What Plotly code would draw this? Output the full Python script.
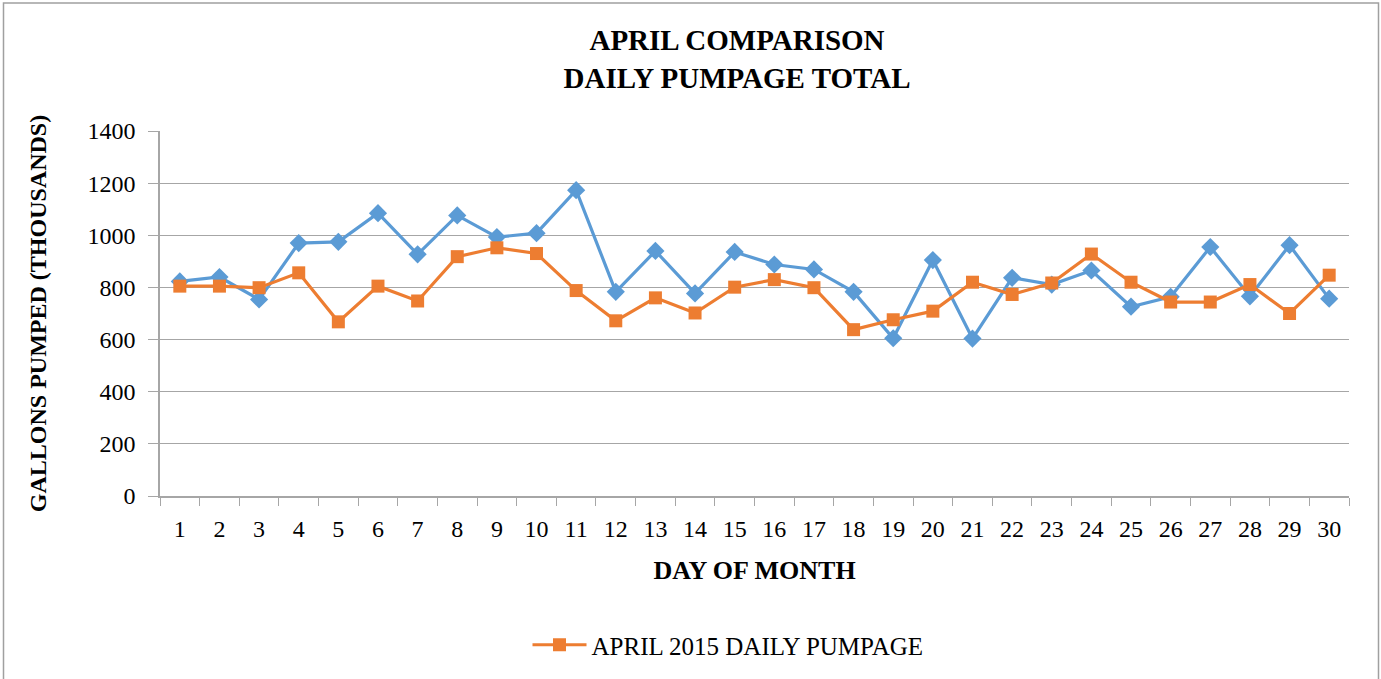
import plotly.graph_objects as go

days = ["1", "2", "3", "4", "5", "6", "7", "8", "9", "10",
        "11", "12", "13", "14", "15", "16", "17", "18", "19", "20",
        "21", "22", "23", "24", "25", "26", "27", "28", "29", "30"]
april_2014 = [823, 840, 754, 970, 975, 1085, 927, 1076, 993, 1008,
              1173, 783, 940, 777, 936, 888, 869, 783, 605, 905,
              604, 837, 811, 865, 726, 764, 955, 766, 962, 757]
april_2015 = [805, 805, 799, 856, 668, 805, 748, 918, 952, 930,
              788, 672, 760, 702, 801, 830, 799, 638, 676, 709,
              820, 773, 817, 928, 820, 744, 744, 811, 700, 847]
y_ticks = [0, 200, 400, 600, 800, 1000, 1200, 1400]

FONT = "Liberation Serif"
W, H = 1381, 679
L, R, T, B = 160, 32, 131, 183
pw, ph = W - L - R, H - T - B

fig = go.Figure()
fig.add_trace(go.Scatter(
    x=days, y=april_2014, mode="lines+markers", name="APRIL 2014 DAILY PUMPAGE",
    showlegend=False,
    line=dict(color="#5B9BD5", width=3.2),
    marker=dict(symbol="diamond", size=14, color="#5B9BD5"),
))
fig.add_trace(go.Scatter(
    x=days, y=april_2015, mode="lines+markers", name="APRIL 2015 DAILY PUMPAGE",
    line=dict(color="#ED7D31", width=3.2),
    marker=dict(symbol="square", size=13, color="#ED7D31"),
))

def px_x(p):
    return (p - L) / pw

def px_y(p):
    return (H - B - p) / ph

fig.update_layout(
    width=W, height=H,
    margin=dict(l=L, r=R, t=T, b=B, autoexpand=False),
    paper_bgcolor="white", plot_bgcolor="white",
    font=dict(family=FONT, color="black", size=20),
    title=dict(
        text="<b>APRIL COMPARISON<br>DAILY PUMPAGE TOTAL</b>",
        x=737 / W, xref="container", xanchor="center",
        y=1 - 50 / H, yref="container", yanchor="middle",
        font=dict(family=FONT, size=29, color="black"),
        automargin=False,
    ),
    xaxis=dict(
        type="category", range=[-0.5, 29.5], tickson="boundaries",
        ticks="outside", ticklen=8, automargin=False,
        tickcolor="#A6A6A6", showline=True, linecolor="#A6A6A6", linewidth=1.5,
        showgrid=False, ticklabelstandoff=10,
        tickfont=dict(family=FONT, size=24),
        title=dict(text="<b>DAY OF MONTH</b>", standoff=20,
                   font=dict(family=FONT, size=26)),
    ),
    yaxis=dict(
        range=[0, 1400], tickvals=y_ticks, ticks="outside", ticklen=10,
        automargin=False, ticklabelstandoff=8,
        tickcolor="#A6A6A6", showline=True, linecolor="#A6A6A6", linewidth=1.5,
        showgrid=True, gridcolor="#A6A6A6", gridwidth=1, zeroline=False,
        tickfont=dict(family=FONT, size=24),
        title=dict(text="<b>GALLONS PUMPED (THOUSANDS)</b>", standoff=34,
                   font=dict(family=FONT, size=24)),
    ),
    legend=dict(
        orientation="h", xref="container", x=728 / W, xanchor="center",
        yref="container", y=1 - 645 / H, yanchor="middle",
        font=dict(family=FONT, size=25), itemwidth=54,
    ),
    shapes=[dict(
        type="rect", xref="paper", yref="paper",
        x0=px_x(3.5), x1=px_x(1378.5), y0=px_y(700), y1=px_y(3),
        line=dict(color="#A0A0A0", width=1.5), fillcolor="rgba(0,0,0,0)",
        layer="below",
    )],
)

fig.write_html("out.html", config={"displayModeBar": False},
               post_script="document.body.style.margin='0';")
